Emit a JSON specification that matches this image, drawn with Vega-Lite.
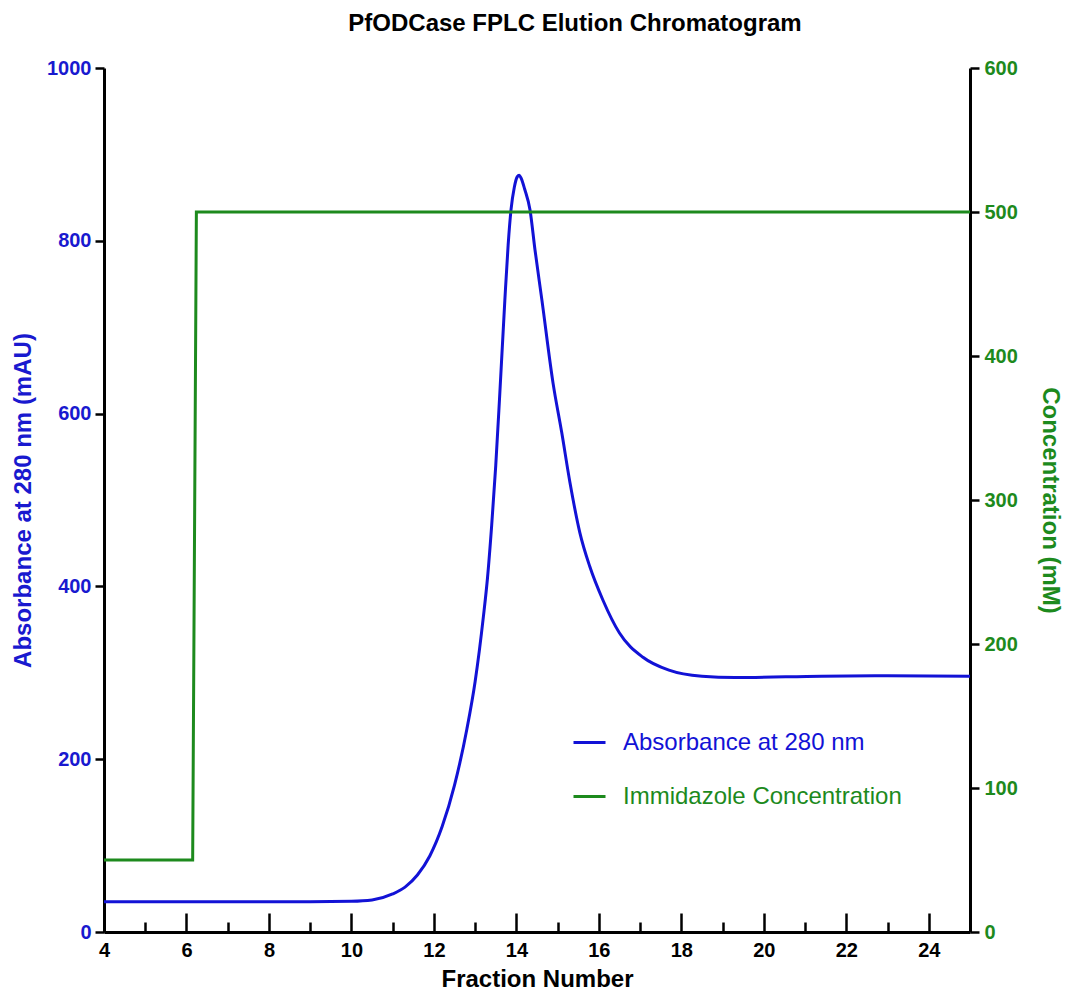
{
  "$schema": "https://vega.github.io/schema/vega-lite/v6.json",
  "width": 866,
  "height": 864,
  "autosize": {"type": "none"},
  "padding": {"left": 104, "top": 68, "right": 101, "bottom": 62},
  "background": "white",
  "title": {
    "text": "PfODCase FPLC Elution Chromatogram",
    "font": "Liberation Sans",
    "fontSize": 24,
    "fontWeight": "bold",
    "color": "black",
    "anchor": "middle",
    "baseline": "alphabetic",
    "offset": 3,
    "dx": 38
  },
  "config": {
    "view": {"stroke": null},
    "font": "Liberation Sans",
    "axis": {
      "grid": false,
      "labelFont": "Liberation Sans",
      "labelFontSize": 20,
      "labelFontWeight": "bold",
      "titleFont": "Liberation Sans",
      "titleFontSize": 24,
      "titleFontWeight": "bold",
      "domainColor": "black",
      "domainWidth": 3,
      "tickColor": "black",
      "tickWidth": 2.5,
      "labelOverlap": false,
      "labelFlush": false
    }
  },
  "datasets": {
    "absorbance": [
      {"fraction": 4.0, "mAU": 35},
      {"fraction": 5.0, "mAU": 35},
      {"fraction": 6.0, "mAU": 35},
      {"fraction": 7.0, "mAU": 35},
      {"fraction": 8.0, "mAU": 35},
      {"fraction": 9.0, "mAU": 35},
      {"fraction": 10.0, "mAU": 35.5},
      {"fraction": 10.5, "mAU": 37},
      {"fraction": 11.0, "mAU": 44},
      {"fraction": 11.3, "mAU": 52},
      {"fraction": 11.6, "mAU": 66},
      {"fraction": 11.9, "mAU": 88},
      {"fraction": 12.2, "mAU": 122},
      {"fraction": 12.5, "mAU": 170},
      {"fraction": 12.8, "mAU": 235},
      {"fraction": 13.0, "mAU": 290},
      {"fraction": 13.2, "mAU": 365},
      {"fraction": 13.3, "mAU": 410},
      {"fraction": 13.4, "mAU": 470},
      {"fraction": 13.5, "mAU": 540},
      {"fraction": 13.6, "mAU": 625},
      {"fraction": 13.72, "mAU": 731},
      {"fraction": 13.8, "mAU": 795},
      {"fraction": 13.87, "mAU": 836},
      {"fraction": 13.95, "mAU": 862},
      {"fraction": 14.02, "mAU": 874},
      {"fraction": 14.07, "mAU": 876},
      {"fraction": 14.12, "mAU": 872},
      {"fraction": 14.2, "mAU": 860},
      {"fraction": 14.33, "mAU": 836},
      {"fraction": 14.45, "mAU": 790},
      {"fraction": 14.62, "mAU": 731},
      {"fraction": 14.89, "mAU": 635},
      {"fraction": 15.1, "mAU": 578},
      {"fraction": 15.3, "mAU": 520},
      {"fraction": 15.54, "mAU": 462},
      {"fraction": 15.78, "mAU": 423},
      {"fraction": 16.1, "mAU": 384},
      {"fraction": 16.5, "mAU": 346},
      {"fraction": 17.07, "mAU": 318},
      {"fraction": 17.7, "mAU": 303},
      {"fraction": 18.5, "mAU": 296},
      {"fraction": 19.3, "mAU": 294.5},
      {"fraction": 21.4, "mAU": 296},
      {"fraction": 23.0, "mAU": 296.5},
      {"fraction": 25.0, "mAU": 296}
    ],
    "imidazole": [
      {"fraction": 4.0, "mM": 50},
      {"fraction": 6.15, "mM": 50},
      {"fraction": 6.24, "mM": 500},
      {"fraction": 25.0, "mM": 500}
    ]
  },
  "encoding": {
    "x": {
      "field": "fraction",
      "type": "quantitative",
      "scale": {"domain": [4, 25], "nice": false, "zero": false}
    },
    "color": {
      "scale": {
        "domain": ["Absorbance at 280 nm", "Immidazole Concentration"],
        "range": ["#1212d6", "#1d8a1d"]
      },
      "legend": {
        "orient": "none",
        "legendX": 468,
        "legendY": 657,
        "title": null,
        "padding": 0,
        "symbolType": "stroke",
        "symbolSize": 1024,
        "symbolStrokeWidth": 3,
        "labelFont": "Liberation Sans",
        "labelFontSize": 24,
        "labelLimit": 500,
        "labelOffset": 16,
        "rowPadding": 24,
        "encode": {
          "labels": {"update": {"fill": {"scale": "color", "field": "value"}}}
        }
      }
    }
  },
  "layer": [
    {
      "data": {"name": "absorbance"},
      "mark": {"type": "line", "strokeWidth": 3, "interpolate": "monotone"},
      "encoding": {
        "x": {
          "field": "fraction",
          "type": "quantitative",
          "scale": {"domain": [4, 25], "nice": false, "zero": false},
          "axis": {
            "orient": "bottom",
            "values": [4, 6, 8, 10, 12, 14, 16, 18, 20, 22, 24],
            "tickSize": -19,
            "labelPadding": 27.5,
            "labelColor": "black",
            "title": "Fraction Number",
            "titleColor": "black",
            "titlePadding": 7
          }
        },
        "y": {
          "field": "mAU",
          "type": "quantitative",
          "scale": {"domain": [0, 1000], "nice": false},
          "axis": {
            "orient": "left",
            "values": [0, 200, 400, 600, 800, 1000],
            "format": "d",
            "tickSize": 9,
            "labelPadding": 4,
            "labelColor": "#1919cf",
            "title": "Absorbance at 280 nm (mAU)",
            "titleColor": "#1919cf",
            "titlePadding": 11
          }
        },
        "color": {"datum": "Absorbance at 280 nm"}
      }
    },
    {
      "data": {"name": "imidazole"},
      "mark": {"type": "line", "strokeWidth": 3},
      "encoding": {
        "x": {
          "field": "fraction",
          "type": "quantitative",
          "scale": {"domain": [4, 25], "nice": false, "zero": false},
          "axis": {
            "orient": "bottom",
            "values": [5, 7, 9, 11, 13, 15, 17, 19, 21, 23],
            "tickSize": -10,
            "labels": false,
            "domain": false,
            "title": null
          }
        },
        "y": {
          "field": "mM",
          "type": "quantitative",
          "scale": {"domain": [0, 600], "nice": false},
          "axis": {
            "orient": "right",
            "values": [0, 100, 200, 300, 400, 500, 600],
            "format": "d",
            "tickSize": 9,
            "labelPadding": 5,
            "labelColor": "#1d8a1d",
            "title": "Concentration (mM)",
            "titleColor": "#1d8a1d",
            "titlePadding": 20
          }
        },
        "color": {"datum": "Immidazole Concentration"}
      }
    }
  ],
  "resolve": {"scale": {"y": "independent"}, "axis": {"x": "independent", "y": "independent"}}
}
